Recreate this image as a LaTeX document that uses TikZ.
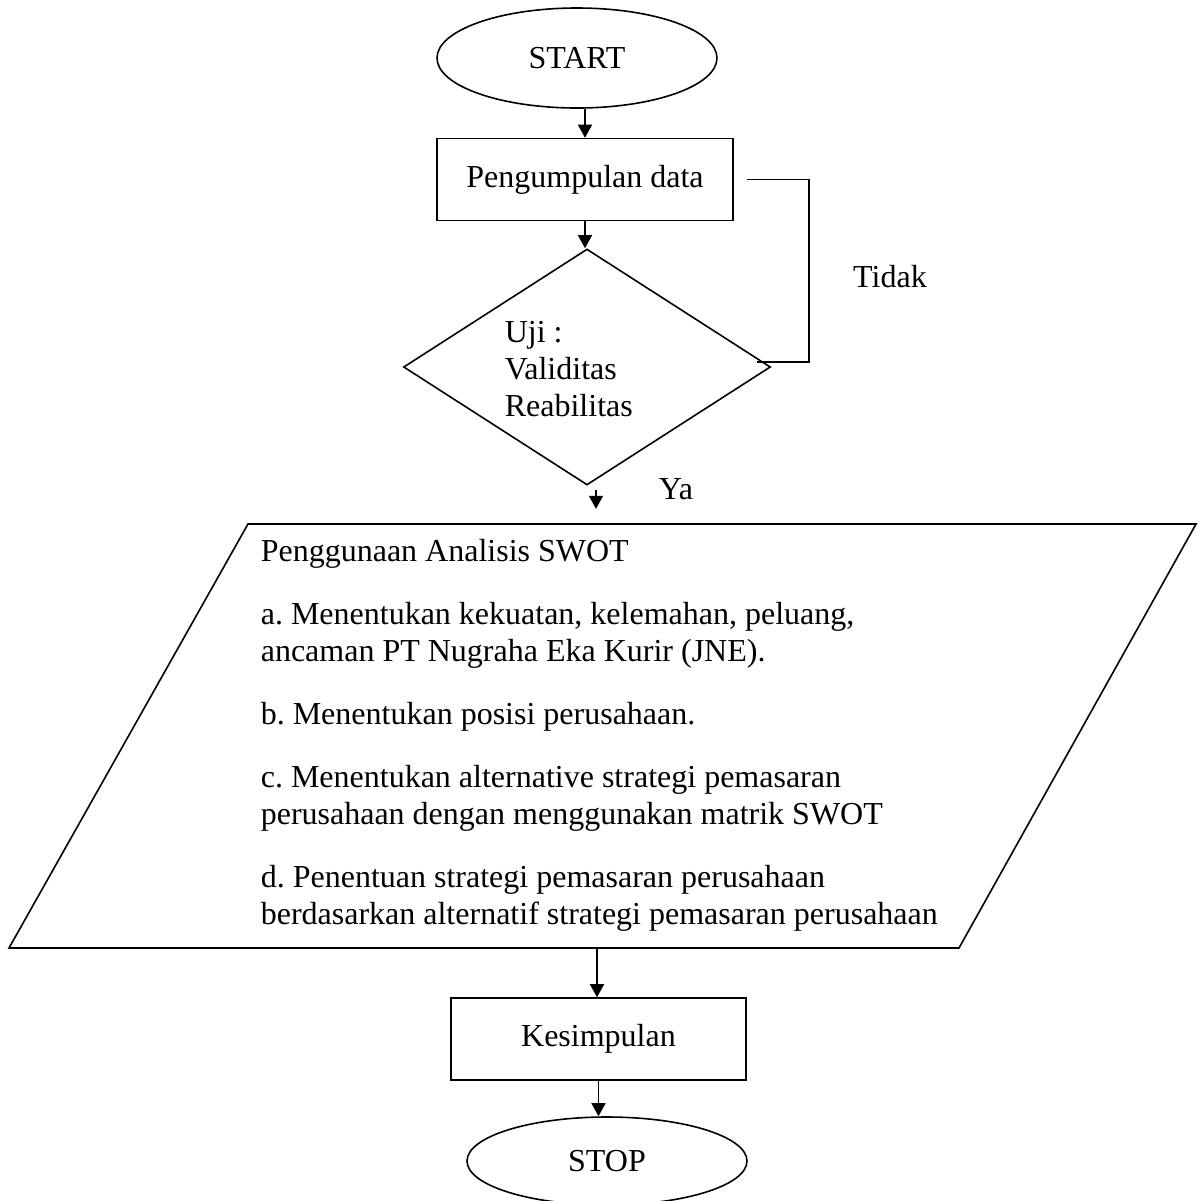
\documentclass[tikz,border=0pt]{standalone}
\usepackage{fontspec}
\setmainfont{Liberation Serif}
\usetikzlibrary{shapes.geometric,arrows.meta,positioning}
\frenchspacing

\begin{document}
\begin{tikzpicture}[
	x=0.5pt, y=-0.5pt,
	line width=0.8pt,
	font=\fontsize{16pt}{18.5pt}\selectfont,
	term/.style={ellipse, draw, minimum width=140pt, minimum height=50pt},
	rect/.style={rectangle, draw, minimum width=148pt, minimum height=41pt},
	txt/.style={inner sep=0pt, align=left},
	arr/.style={-{Triangle[width=7pt,length=6.5pt]}}
	]
	\useasboundingbox (0,0) rectangle (1198,1201);

	\node[term] (start) at (577,58) {START};
	\node[rect] (collect) at (585,179.5) {Pengumpulan data};
	\node[diamond, draw, inner sep=0pt] (test) at (587,367) [minimum width=183.5pt, minimum height=118pt] {};
	\node[txt, anchor=west] (testtxt) at (504,369) {Uji :\\Validitas\\Reabilitas};
	\node (no) at (890,277) {Tidak};
	\node (yes) at (676,489) {Ya};

	% parallelogram with the SWOT steps
	\coordinate (swotnw) at (248,524);
	\coordinate (swotne) at (1196,524);
	\coordinate (swotse) at (959,948);
	\coordinate (swotsw) at (9,948);
	\draw (swotsw) -- (swotse) -- (swotne) -- (swotnw) -- cycle;
	\coordinate (swotout) at (597,948);
	\node[txt, anchor=north west] (swottxt) at (260,538) {Penggunaan Analisis SWOT\\[13pt]
		a. Menentukan kekuatan, kelemahan, peluang,\\
		ancaman PT Nugraha Eka Kurir (JNE).\\[13pt]
		b. Menentukan posisi perusahaan.\\[13pt]
		c. Menentukan alternative strategi pemasaran\\
		perusahaan dengan menggunakan matrik SWOT\\[13pt]
		d. Penentuan strategi pemasaran perusahaan\\
		berdasarkan alternatif strategi pemasaran perusahaan};

	\node[rect] (concl) at (598.5,1039) [minimum width=147.5pt] {Kesimpulan};
	\node[term] (stop) at (607,1161) [minimum height=44pt] {STOP};

	% connectors
	\draw[arr] (start.south -| collect.north) -- (collect.north);
	\draw[arr] (collect.south) -- (collect.south |- test.north);
	\coordinate (loopin) at ([xshift=6.5pt]collect.east);
	\coordinate (loopout) at ([xshift=-7pt,yshift=2.5pt]test.east);
	\draw (loopin) -- ++(62,0) |- (loopout);
	\draw[arr] ([xshift=4.5pt,yshift=-2pt]test.south) -- ++(0,19);
	\draw[arr] (swotout) -- (swotout |- concl.north);
	\draw[arr] (concl.south) -- (concl.south |- stop.north);
\end{tikzpicture}
\end{document}
